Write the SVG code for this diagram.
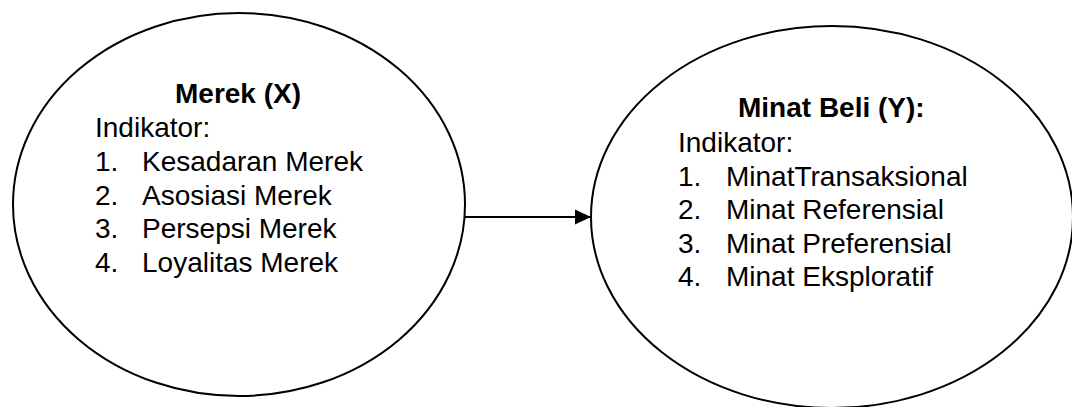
<svg xmlns="http://www.w3.org/2000/svg" width="1072" height="407" viewBox="0 0 1072 407">
  <style>
    .node { fill: #ffffff; stroke: #000000; stroke-width: 2; }
    .txt { font-family: "Liberation Sans", Arial, sans-serif; font-size: 28px; fill: #000000; }
    .title { font-weight: bold; }
    .edge { stroke: #000000; stroke-width: 2; fill: none; }
  </style>
  <defs>
    <marker id="arrow" markerWidth="16" markerHeight="16" refX="16" refY="8" orient="auto" markerUnits="userSpaceOnUse">
      <path d="M0,0.5 L16,8 L0,15.5 Z" fill="#000000"/>
    </marker>
  </defs>
  <rect width="1072" height="407" fill="#ffffff"/>

  <!-- independent variable -->
  <g id="merek">
    <ellipse class="node" cx="239" cy="204.5" rx="226" ry="191.5"/>
    <text class="txt title" x="175" y="103">Merek (X)</text>
    <text class="txt" x="95" y="137">Indikator:</text>
    <text class="txt" x="95" y="171">1.</text>
    <text class="txt" x="142" y="171">Kesadaran Merek</text>
    <text class="txt" x="95" y="205">2.</text>
    <text class="txt" x="142" y="205">Asosiasi Merek</text>
    <text class="txt" x="95" y="238">3.</text>
    <text class="txt" x="142" y="238">Persepsi Merek</text>
    <text class="txt" x="95" y="272">4.</text>
    <text class="txt" x="142" y="272">Loyalitas Merek</text>
  </g>

  <!-- dependent variable -->
  <g id="minat-beli">
    <ellipse class="node" cx="832" cy="217" rx="241" ry="191"/>
    <text class="txt title" x="738" y="117">Minat Beli (Y):</text>
    <text class="txt" x="678" y="152">Indikator:</text>
    <text class="txt" x="678" y="186">1.</text>
    <text class="txt" x="726" y="186">MinatTransaksional</text>
    <text class="txt" x="678" y="219">2.</text>
    <text class="txt" x="726" y="219">Minat Referensial</text>
    <text class="txt" x="678" y="253">3.</text>
    <text class="txt" x="726" y="253">Minat Preferensial</text>
    <text class="txt" x="678" y="286">4.</text>
    <text class="txt" x="726" y="286">Minat Eksploratif</text>
  </g>

  <g id="connectors">
    <line class="edge" x1="465" y1="217" x2="591" y2="217" marker-end="url(#arrow)"/>
  </g>
</svg>
